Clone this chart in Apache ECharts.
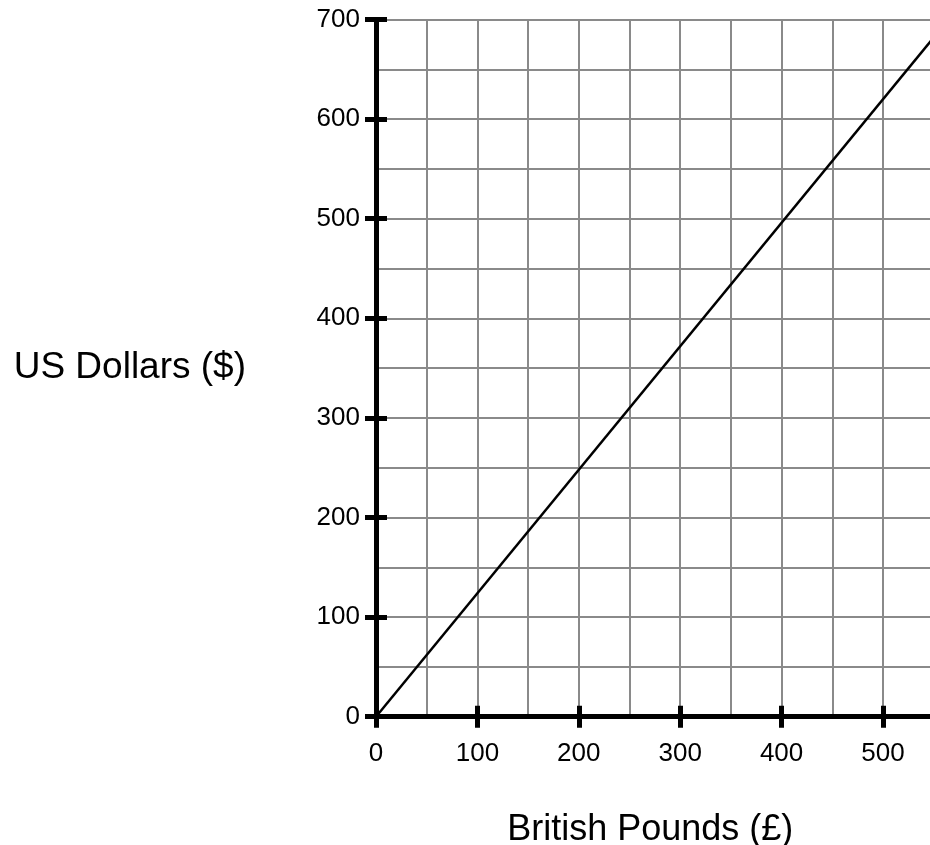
<!DOCTYPE html>
<html>
<head>
<meta charset="utf-8">
<script src="https://cdn.jsdelivr.net/npm/echarts@6/dist/echarts.min.js"></script>
<style>
  html, body { margin: 0; padding: 0; background: #fff; }
  #chart { width: 930px; height: 845px; }
</style>
</head>
<body>
<div id="chart"></div>
<script>
// conversion line: pounds -> dollars
const pounds = [0, 550]
const dollars = [0, 682]

const xLabelMax = 500
const yTicks = [0, 100, 200, 300, 400, 500, 600, 700]

const chart = echarts.init(document.getElementById('chart'))

const black = '#000'
const gridGray = '#8a8a8a'
const font = 'Liberation Sans, Arial, sans-serif'

// main axis: line, outer ticks, labels, split lines (every 100, minor every 50)
const mainAxis = (extra) => Object.assign({
  type: 'value',
  min: 0,
  interval: 100,
  axisLine: { show: true, onZero: true, lineStyle: { color: black, width: 5 } },
  axisTick: { show: true, inside: false, length: 11, lineStyle: { color: black, width: 5 } },
  splitLine: { show: true, lineStyle: { color: gridGray, width: 2 } },
  minorTick: { show: false, splitNumber: 2 },
  minorSplitLine: { show: true, lineStyle: { color: gridGray, width: 2 } },
  z: 5,
}, extra)

// twin axis only for the inner half of the ticks
const tickAxis = (extra) => Object.assign({
  type: 'value',
  min: 0,
  interval: 100,
  axisLine: { show: false },
  axisTick: { show: true, inside: true, length: 11, lineStyle: { color: black, width: 5 } },
  axisLabel: { show: false },
  splitLine: { show: false },
  z: 6,
}, extra)

const option = {
  backgroundColor: '#fff',
  animation: false,
  grid: {
    left: 376,
    top: 19.5,
    right: -54.4,
    bottom: 128.3,
    containLabel: false,
    outerBoundsMode: 'none',
  },
  xAxis: [
    mainAxis({
      position: 'bottom',
      max: 600,
      name: 'British Pounds (£)',
      nameLocation: 'middle',
      nameGap: 95,
      // grid runs past the right edge, so pull the title back to the visible middle
      nameTextStyle: { color: black, fontSize: 36, fontFamily: font, padding: [0, 60, 0, 0] },
      axisLabel: {
        color: black,
        fontSize: 26,
        fontFamily: font,
        margin: 24,
        formatter: v => (v <= xLabelMax ? String(v) : ''),
      },
    }),
    tickAxis({ position: 'bottom', max: 600 }),
  ],
  yAxis: [
    mainAxis({
      position: 'left',
      max: 700,
      name: 'US Dollars ($)',
      nameLocation: 'middle',
      nameRotate: 0,
      nameGap: 130,
      nameTextStyle: { color: black, fontSize: 37, fontFamily: font, align: 'right', padding: [0, 0, 4, 0] },
      axisLabel: {
        color: black,
        fontSize: 26,
        fontFamily: font,
        margin: 16,
        formatter: v => (yTicks.includes(v) ? String(v) : ''),
      },
    }),
    tickAxis({ position: 'left', max: 700 }),
  ],
  series: [
    {
      type: 'line',
      xAxisIndex: 0,
      yAxisIndex: 0,
      data: pounds.map((p, i) => [p, dollars[i]]),
      showSymbol: false,
      symbol: 'none',
      lineStyle: { color: black, width: 2.5 },
      z: 10,
    },
  ],
}

chart.setOption(option)
</script>
</body>
</html>
